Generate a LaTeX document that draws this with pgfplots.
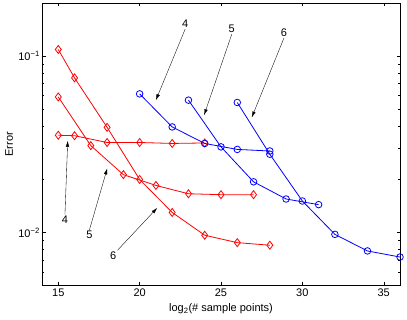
\documentclass[border=0pt]{standalone}
\usepackage{fontspec}
\setmainfont{Liberation Sans}
\usepackage{pgfplots}
\pgfplotsset{compat=1.18}
\usetikzlibrary{arrows.meta}

\begin{document}
\begin{tikzpicture}[font=\fontsize{11}{13}\selectfont]
\path[use as bounding box] (0,0) rectangle (407pt,320pt);
\begin{axis}[
  at={(42pt,34.3pt)}, anchor=south west,
  scale only axis, width=358pt, height=282.7pt,
  ymode=log,
  xmin=14, xmax=36, ymin=0.005, ymax=0.2,
  xtick={15,20,25,30,35},
  ytick={0.01,0.1},
  yticklabels={10\textsuperscript{−2},10\textsuperscript{−1}},
  minor ytick={0.006,0.007,0.008,0.009,0.02,0.03,0.04,0.05,0.06,0.07,0.08,0.09},
  tick align=inside,
  major tick length=3.5pt, minor tick length=2pt,
  every tick/.style={black, line width=0.4pt},
  axis line style={line width=0.5pt},
  /pgf/number format/assume math mode=true,
  tick label style={font=\fontsize{11}{13}\selectfont},
  yticklabel style={inner sep=2pt},
  xticklabel style={inner sep=3pt},
  label style={font=\fontsize{11}{13}\selectfont},
  xlabel={log\textsubscript{2}(\# sample points)},
  ylabel={Error},
  xlabel style={at={(axis description cs:0.5,-0.0919)}, anchor=base},
  ylabel style={at={(axis description cs:-0.092,0.5)}, anchor=center},
  clip=false,
  every axis plot/.append style={line width=0.8pt},
]
% red diamonds
\addplot[red, mark=diamond, mark size=4pt] coordinates {
  (15,0.109) (16,0.0753) (18,0.0395) (20,0.0200) (22,0.0130) (24,0.00966) (26,0.00877) (28,0.00848)};
\addplot[red, mark=diamond, mark size=4pt] coordinates {
  (15,0.0587) (17,0.0311) (19,0.0213) (21,0.0185) (23,0.0166) (25,0.0164) (27,0.0164)};
\addplot[red, mark=diamond, mark size=4pt] coordinates {
  (15,0.0356) (16,0.0354) (18,0.0324) (20,0.0324) (22,0.0320) (24,0.0322)};
% blue circles
\addplot[blue, mark=o, mark size=3.3pt] coordinates {
  (20,0.0611) (22,0.0397) (24,0.0320) (26,0.0296) (28,0.0290)};
\addplot[blue, mark=o, mark size=3.3pt] coordinates {
  (23,0.0563) (25,0.0306) (27,0.0194) (29,0.0155) (31,0.0144)};
\addplot[blue, mark=o, mark size=3.3pt] coordinates {
  (26,0.0546) (28,0.0278) (30,0.0151) (32,0.00977) (34,0.00787) (36,0.00727)};

% annotations
\tikzset{ann/.style={-{Latex[length=6pt,width=3.5pt]}, line width=0.35pt, black}}
\node[inner sep=1pt] (u4) at (axis cs:22.8,0.152) {4};
\node[inner sep=1pt] (u5) at (axis cs:25.66,0.142) {5};
\node[inner sep=1pt] (u6) at (axis cs:28.87,0.1355) {6};
\draw[ann] (u4.south) -- (axis cs:21.0,0.0563);
\draw[ann] (u5.south) -- (axis cs:23.96,0.0463);
\draw[ann] (u6.south) -- (axis cs:26.89,0.0449);
\node[inner sep=1pt] (d4) at (axis cs:15.41,0.01186) {4};
\node[inner sep=1pt] (d5) at (axis cs:16.91,0.00966) {5};
\node[inner sep=1pt] (d6) at (axis cs:18.38,0.00743) {6};
\draw[ann] (d4.north) -- (axis cs:15.58,0.0331);
\draw[ann] (d5.north) -- (axis cs:18.01,0.0231);
\draw[ann] (d6.north east) -- (axis cs:21.08,0.0138);
\end{axis}
\end{tikzpicture}
\end{document}
